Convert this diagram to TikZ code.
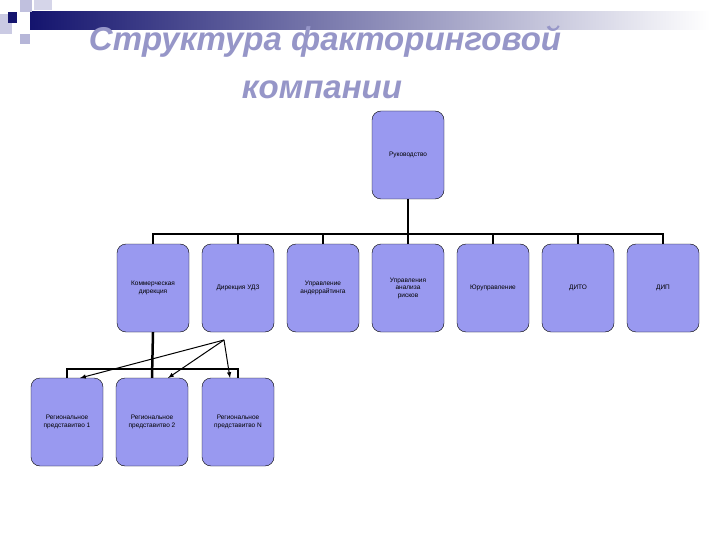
\documentclass[tikz,border=0pt]{standalone}
\usepackage{fontspec}
\setmainfont{Liberation Sans}
\definecolor{boxfill}{RGB}{153,153,240}
\definecolor{titlec}{RGB}{150,150,200}
\definecolor{navy}{RGB}{20,20,110}
\tikzset{box/.style={draw=black,fill=boxfill,rounded corners=9pt,minimum width=72pt,minimum height=88pt,align=center,font=\fontsize{6.5}{7.5}\selectfont,inner sep=1pt},
conn/.style={line width=1.2pt},
arr/.style={->,>=latex,line width=1pt}}
\begin{document}
\begin{tikzpicture}[x=1pt,y=-1pt]
\useasboundingbox (0,0) rectangle (720,540);
\fill[white] (0,0) rectangle (720,540);
% header decoration
\shade[left color=navy,right color=white] (30,12) rectangle (710,30);
\fill[titlec!60] (20,0) rectangle (32,12);
\fill[titlec!40] (34,0) rectangle (52,10);
\fill[titlec!50] (0,14) rectangle (12,34);
\fill[titlec!70] (20,34) rectangle (30,44);
\fill[navy] (8,12) rectangle (17,23);
\node[text=titlec,font=\fontsize{33}{36}\selectfont\bfseries\itshape] (t1) at (325,42) {Структура факторинговой};
\node[text=titlec,font=\fontsize{33}{36}\selectfont\bfseries\itshape] (t2) at (322,90) {компании};
\node[box] (top) at (408,155) {Руководство};
\node[box] (b1) at (153,288) {Коммерческая\\дирекция};
\node[box] (b2) at (238,288) {Дирекция УДЗ};
\node[box] (b3) at (323,288) {Управление\\андеррайтинга};
\node[box] (b4) at (408,288) {Управления\\анализа\\рисков};
\node[box] (b5) at (493,288) {Юруправление};
\node[box] (b6) at (578,288) {ДИТО};
\node[box] (b7) at (663,288) {ДИП};
\node[box] (r1) at (67,422) {Региональное\\представитво 1};
\node[box] (r2) at (152,422) {Региональное\\представитво 2};
\node[box] (r3) at (238,422) {Региональное\\представитво N};
\draw[conn] (top.south) -- (408,234);
\draw[conn] (b1.north) -- (153,234) -| (b7.north);
\foreach \n in {b2,b3,b4,b5,b6} \draw[conn] (\n.north) -- (\n.north|-0,234);
\draw[line width=2.5pt] (b1.south) -- (r2.north);
\draw[conn] (r1.north) -- (67,369) -| (r3.north);
\coordinate (src) at (224,340);
\draw[arr] (src) -- (80,378);
\draw[arr] (src) -- (168,378);
\draw[arr] (src) -- (230,378);
\end{tikzpicture}
\end{document}
